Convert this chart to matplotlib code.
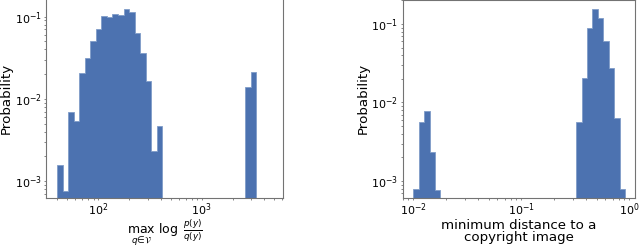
import matplotlib.pyplot as plt
import numpy as np

# left panel: log-spaced histogram, 36 bins between ~40 and ~3360
left_edges = np.logspace(1.603, 3.526, 37)
left_probs = [1.57e-3, 7.6e-4, 6.98e-3, 5.42e-3, 0.0204, 0.0311, 0.0511, 0.0708,
              0.102, 0.100, 0.108, 0.106, 0.123, 0.113, 0.0627, 0.0365, 0.0165,
              2.32e-3, 4.62e-3,
              0, 0, 0, 0, 0, 0, 0, 0, 0, 0, 0, 0, 0, 0, 0,
              0.0141, 0.0214]

# right panel: 39 bins between 0.01 and ~0.91
right_edges = np.logspace(-2, -0.04, 40)
right_probs = [7.8e-4, 5.58e-3, 7.8e-3, 2.34e-3, 7.7e-4,
               0, 0, 0, 0, 0, 0, 0, 0, 0, 0, 0, 0, 0, 0, 0, 0, 0, 0, 0, 0,
               0, 0, 0, 0, 0,
               5.58e-3, 0.0203, 0.088, 0.154, 0.118, 0.0607, 0.0272, 6.28e-3, 7.8e-4]

plt.rcParams['font.size'] = 9.6
blue = '#4C72B0'

fig = plt.figure(figsize=(6.4, 2.45), dpi=100)
ax1 = fig.add_axes([46 / 640, 1 - 198.3 / 245, 237.3 / 640, 199.3 / 245])
ax2 = fig.add_axes([402.7 / 640, 1 - 197.7 / 245, 232.3 / 640, 197.7 / 245])


def draw(ax, edges, probs):
    edges = np.asarray(edges)
    centers = np.sqrt(edges[:-1] * edges[1:])
    ax.hist(centers, bins=edges, weights=probs, histtype='stepfilled', log=True,
            facecolor=blue, edgecolor='#7f9cc8', linewidth=0.6)
    ax.set_xscale('log')
    ax.set_ylabel('Probability', labelpad=1.5)
    for s in ax.spines.values():
        s.set_color('0.45')
        s.set_linewidth(0.8)
    ax.tick_params(which='both', color='0.45', length=1.6, width=0.6,
                   labelsize=8)
    ax.tick_params(axis='x', which='both', pad=0.8)
    ax.tick_params(axis='y', which='both', pad=1.5)
    ax.tick_params(which='minor', length=1.2)


draw(ax1, left_edges, left_probs)
ax1.set_xlim(31.2, 6150)
ax1.set_ylim(10 ** -3.21, 10 ** -0.786)
ax1.set_xlabel(r'$\max_{q\in\mathcal{V}}\ \log\ \frac{p(y)}{q(y)}$', fontsize=9,
               labelpad=-1)

draw(ax2, right_edges, right_probs)
ax2.set_xlim(10 ** -2.098, 10 ** 0.053)
ax2.set_ylim(10 ** -3.213, 10 ** -0.694)
ax2.set_xlabel('minimum distance to a\ncopyright image', linespacing=0.92,
               labelpad=1)

fig.savefig('out.png', dpi=100)
